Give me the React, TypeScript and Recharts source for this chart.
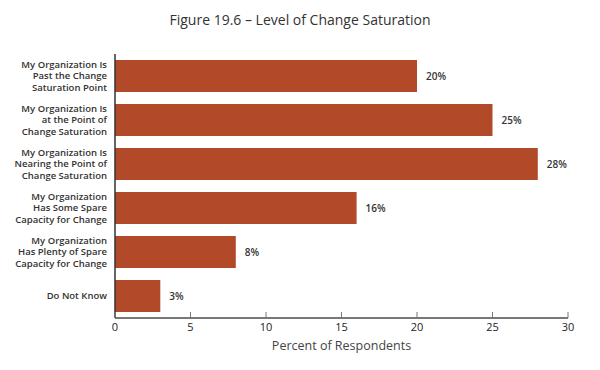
import { BarChart, Bar, XAxis, YAxis, LabelList } from 'recharts'

const BAR = '#B24A29'
const INK = '#333333'
const FONT = '"Open Sans", sans-serif'

const categories = [
  'My Organization Is|Past the Change|Saturation Point',
  'My Organization Is|at the Point of|Change Saturation',
  'My Organization Is|Nearing the Point of|Change Saturation',
  'My Organization|Has Some Spare|Capacity for Change',
  'My Organization|Has Plenty of Spare|Capacity for Change',
  'Do Not Know',
]
const percents = [20, 25, 28, 16, 8, 3]
const xTicks = [0, 5, 10, 15, 20, 25, 30]

const data = categories.map((name, i) => ({ name, value: percents[i] }))

function CategoryTick({ x, y, payload }: any) {
  const lines = String(payload.value).split('|')
  const lh = 11.5
  const start = -((lines.length - 1) * lh) / 2
  return (
    <text x={x} y={y} textAnchor="end" fill={INK} fontFamily={FONT} fontSize={9.5} fontWeight={600}>
      {lines.map((l, i) => (
        <tspan key={i} x={x} y={y + start + i * lh} dy="0.35em">{l}</tspan>
      ))}
    </text>
  )
}

function ValueTick({ x, y, payload }: any) {
  return (
    <g>
      <line x1={x} x2={x} y1={y - 6} y2={y} stroke="#777" strokeWidth={1} />
      <text x={x} y={y + 9} dy="0.35em" textAnchor="middle" fill="#222" fontFamily={FONT} fontSize={11}>
        {payload.value}
      </text>
    </g>
  )
}

export default function App() {
  return (
    <div style={{ position: 'absolute', left: 0, top: 0, width: 600, height: 370, background: '#fff' }}>
      <div style={{ position: 'absolute', top: 10, left: 0, width: 600, textAlign: 'center', fontFamily: FONT, fontSize: 14, fontWeight: 500, color: INK, lineHeight: '20px' }}>
        Figure 19.6 – Level of Change Saturation
      </div>
      <BarChart
        width={600}
        height={370}
        data={data}
        layout="vertical"
        margin={{ top: 54, right: 32, left: 0, bottom: 22 }}
        barCategoryGap={6}
      >
        <XAxis
          type="number"
          domain={[0, 30]}
          ticks={xTicks}
          interval={0}
          height={30}
          tickSize={0}
          tickMargin={0}
          tickLine={false}
          axisLine={{ stroke: '#777', strokeWidth: 2 }}
          tick={<ValueTick />}
          label={{ value: 'Percent of Respondents', position: 'insideBottom', offset: -2, fill: '#444', fontFamily: FONT, fontSize: 12.5, fontWeight: 500 }}
        />
        <YAxis
          type="category"
          dataKey="name"
          width={115}
          tickSize={0}
          tickMargin={8}
          tickLine={false}
          axisLine={{ stroke: INK, strokeWidth: 1.5 }}
          tick={<CategoryTick />}
          interval={0}
        />
        <Bar dataKey="value" fill={BAR} isAnimationActive={false}>
          <LabelList
            dataKey="value"
            position="right"
            offset={9}
            formatter={(v: any) => `${v}%`}
            fill={INK}
            fontFamily={FONT}
            fontSize={10}
            fontWeight={600}
          />
        </Bar>
      </BarChart>
    </div>
  )
}
